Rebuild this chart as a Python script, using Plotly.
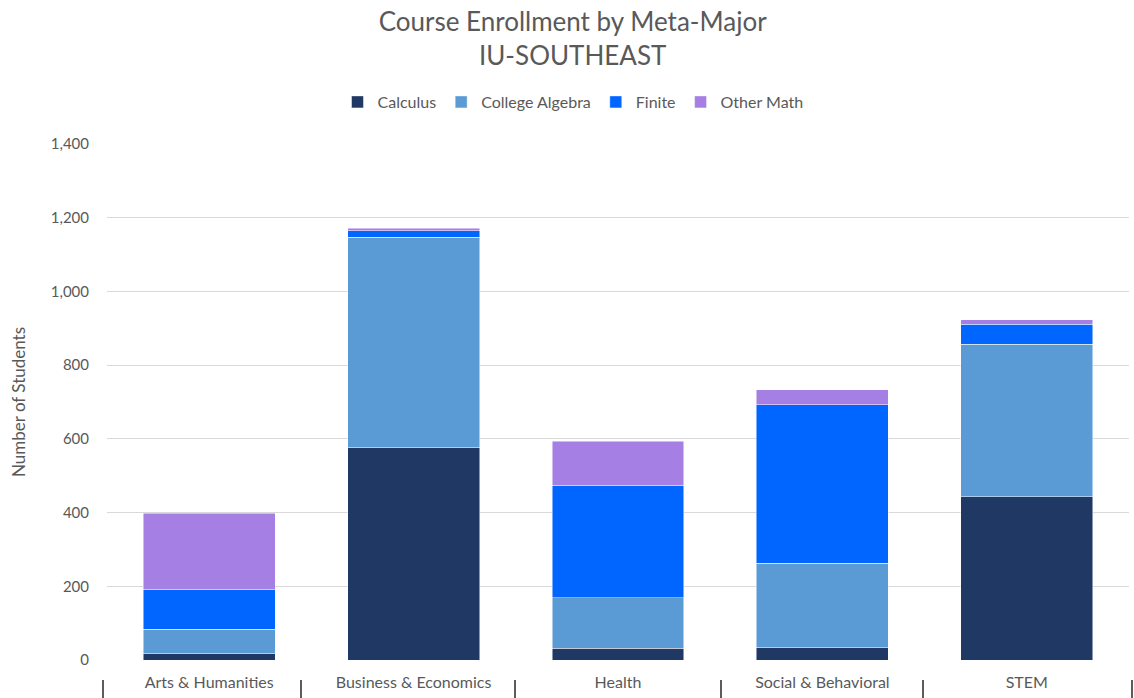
import plotly.graph_objects as go

categories = ["Arts & Humanities", "Business & Economics", "Health", "Social & Behavioral", "STEM"]
calculus = [18, 577, 32, 35, 443]
college_algebra = [66, 570, 137, 228, 414]
finite = [108, 17, 305, 429, 54]
other_math = [206, 7, 120, 41, 12]

series = [
    ("Calculus", calculus, "#203864"),
    ("College Algebra", college_algebra, "#5B9BD5"),
    ("Finite", finite, "#0066FF"),
    ("Other Math", other_math, "#A67FE5"),
]

FONT = "Lato, 'Open Sans', sans-serif"
GREY = "#595959"

fig = go.Figure()
for name, vals, col in series:
    fig.add_trace(go.Bar(
        x=categories, y=vals, name=name,
        marker=dict(color=col, line=dict(color="rgba(255,255,255,0.6)", width=0.8)),
    ))

W, H = 1134, 698
L, R, T, B = 107, 5, 144, 38
pw = W - L - R
ph = H - T - B

shapes = []
for px in [103, 301, 515, 721, 923, 1132]:
    xp = (px - L) / pw
    shapes.append(dict(type="line", xref="paper", yref="paper",
                       x0=xp, x1=xp, y0=-20 / ph, y1=-40 / ph,
                       line=dict(color="#262626", width=1.5)))

fig.update_layout(
    width=W, height=H,
    margin=dict(l=L, r=R, t=T, b=B, autoexpand=False),
    barmode="stack",
    bargap=0.355,
    plot_bgcolor="white",
    paper_bgcolor="white",
    font=dict(family=FONT, color=GREY, size=14),
    title=dict(text="Course Enrollment by Meta-Major<br>IU-SOUTHEAST",
               xref="container", yref="container",
               x=0.505, xanchor="center", y=1 - 31 / H, yanchor="middle",
               font=dict(family=FONT, size=26, color=GREY)),
    legend=dict(orientation="h", x=(573 - L) / pw, xanchor="center",
                y=(H - B - 102) / ph, yanchor="middle",
                font=dict(family=FONT, size=16, color=GREY),
                itemwidth=30, traceorder="normal"),
    shapes=shapes,
    showlegend=True,
)
fig.update_yaxes(range=[0, 1400], dtick=200, tickformat=",", showgrid=True,
                 gridcolor="#D9D9D9", gridwidth=1, zeroline=False, showline=False,
                 ticklabelstandoff=17,
                 title=dict(text="Number of Students", standoff=20,
                            font=dict(family=FONT, size=17, color=GREY)),
                 tickfont=dict(family=FONT, size=15, color=GREY))
fig.update_xaxes(showgrid=False, showline=False, ticks="", ticklabelstandoff=11,
                 tickfont=dict(family=FONT, size=16, color=GREY))

fig.write_html("out.html", config={"displayModeBar": False},
               post_script="document.body.style.margin='0';")
